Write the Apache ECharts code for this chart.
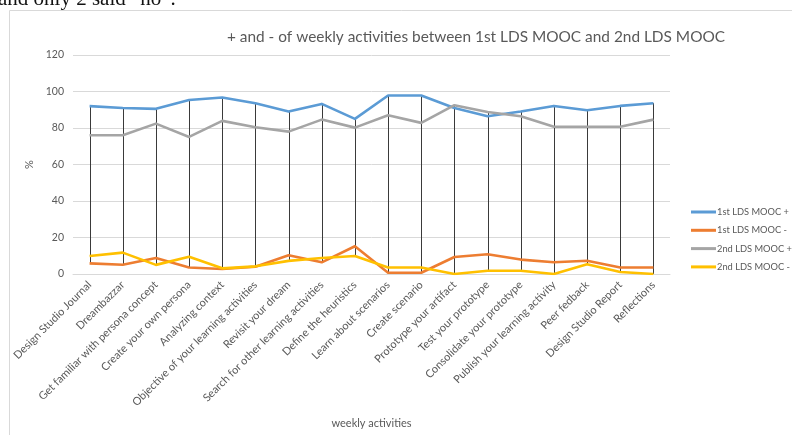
<!DOCTYPE html>
<html>
<head>
<meta charset="utf-8">
<script src="https://cdn.jsdelivr.net/npm/echarts@6/dist/echarts.min.js"></script>
<style>html,body{margin:0;padding:0;background:#fff;}#c{width:792px;height:435px;}</style>
</head>
<body>
<div id="c"></div>
<script>
var categories = ["Design Studio Journal","Dreambazzar","Get familiar with persona concept","Create your own persona","Analyzing context","Objective of your learning activities","Revisit your dream","Search for other learning activities","Define the heuristics","Learn about scenarios","Create scenario","Prototype your artifact","Test your prototype","Consolidate your prototype","Publish your learning activity","Peer fedback","Design Studio Report","Reflections"];
var mooc1Plus  = [92.0, 91.0, 90.5, 95.3, 96.7, 93.6, 89.0, 93.2, 85.0, 97.8, 97.8, 91.0, 86.4, 89.0, 92.1, 89.7, 92.1, 93.6];
var mooc1Minus = [5.8, 5.1, 8.8, 3.6, 2.7, 4.0, 10.3, 6.4, 15.2, 0.7, 0.7, 9.3, 10.8, 7.9, 6.4, 7.3, 3.6, 3.6];
var mooc2Plus  = [76.0, 76.0, 82.4, 75.1, 83.9, 80.4, 78.0, 84.6, 80.2, 87.0, 82.8, 92.5, 88.8, 86.4, 80.7, 80.7, 80.7, 84.6];
var mooc2Minus = [9.9, 11.7, 5.0, 9.5, 3.1, 4.2, 7.2, 8.8, 9.9, 3.6, 3.6, 0.0, 1.8, 1.8, 0.0, 5.3, 1.1, 0.0];
var yTicks = [0, 20, 40, 60, 80, 100, 120];

var seriesNames = ["1st LDS MOOC +", "1st LDS MOOC -", "2nd LDS MOOC +", "2nd LDS MOOC -"];
var seriesData = [mooc1Plus, mooc1Minus, mooc2Plus, mooc2Minus];
var colors = ["#5B9BD5", "#ED7D31", "#A5A5A5", "#FFC000"];

var hiLo = categories.map(function (c, i) {
  var vals = seriesData.map(function (s) { return s[i]; });
  return [i, Math.min.apply(null, vals), Math.max.apply(null, vals)];
});

var font = "Lato, 'Open Sans', sans-serif";
var chart = echarts.init(document.getElementById('c'));
var series = [{
  type: 'custom',
  name: 'hilo',
  silent: true,
  z: 1,
  data: hiLo,
  renderItem: function (params, api) {
    var p1 = api.coord([api.value(0), api.value(2)]);
    var p2 = api.coord([api.value(0), api.value(1)]);
    return {
      type: 'line',
      shape: { x1: Math.round(p1[0]) + 0.5, y1: p1[1], x2: Math.round(p2[0]) + 0.5, y2: p2[1] },
      style: { stroke: '#3a3a3a', lineWidth: 1 }
    };
  }
}];
seriesNames.forEach(function (n, k) {
  series.push({
    type: 'line',
    name: n,
    data: seriesData[k],
    symbol: 'none',
    z: 2 + k,
    lineStyle: { width: 2.6, color: colors[k], join: 'round' },
    itemStyle: { color: colors[k] }
  });
});

chart.setOption({
  animation: false,
  color: colors,
  textStyle: { fontFamily: font },
  title: {
    text: '+ and - of weekly activities between 1st LDS MOOC and 2nd LDS MOOC',
    left: 471, textAlign: 'center', top: 25,
    textStyle: { fontFamily: font, fontSize: 15.4, fontWeight: 'normal', color: '#595959' }
  },
  graphic: [
    { type: 'rect', shape: { x: 9.5, y: 10.5, width: 800, height: 440 }, style: { fill: 'none', stroke: '#d9d9d9', lineWidth: 1 }, z: -10 },
    { type: 'text', left: -2, top: -11, style: { text: 'and only 2 said \u201Cno\u201D.', font: '21px "Liberation Serif", serif', fill: '#111' } }
  ],
  legend: {
    orient: 'vertical',
    left: 686, top: 201,
    itemWidth: 25, itemHeight: 3, itemGap: 6.3,
    icon: 'rect',
    data: seriesNames,
    textStyle: { fontFamily: font, fontSize: 9.3, color: '#595959', lineHeight: 12, padding: [0, 0, 0, -4] }
  },
  grid: { left: 73, right: 122, top: 55, bottom: 161, containLabel: false },
  xAxis: {
    type: 'category',
    data: categories,
    boundaryGap: true,
    name: 'weekly activities',
    nameLocation: 'middle',
    nameGap: 144,
    nameTextStyle: { fontFamily: font, fontSize: 11, color: '#595959' },
    axisLine: { lineStyle: { color: '#d9d9d9', width: 1 } },
    axisTick: { show: false },
    axisLabel: { interval: 0, rotate: 45, fontSize: 11, color: '#595959', margin: 9, fontFamily: font }
  },
  yAxis: {
    type: 'value',
    min: 0, max: 120, interval: 20,
    name: '%',
    nameLocation: 'middle',
    nameRotate: 90,
    nameGap: 34,
    nameTextStyle: { fontFamily: font, fontSize: 11, color: '#595959' },
    axisLine: { show: false },
    axisTick: { show: false },
    splitLine: { lineStyle: { color: '#d9d9d9', width: 1 } },
    axisLabel: {
      fontSize: 10.5, color: '#595959', margin: 9, fontFamily: font,
      formatter: function (v) { return yTicks.indexOf(v) >= 0 ? String(v) : ''; }
    }
  },
  series: series
});
</script>
</body>
</html>
